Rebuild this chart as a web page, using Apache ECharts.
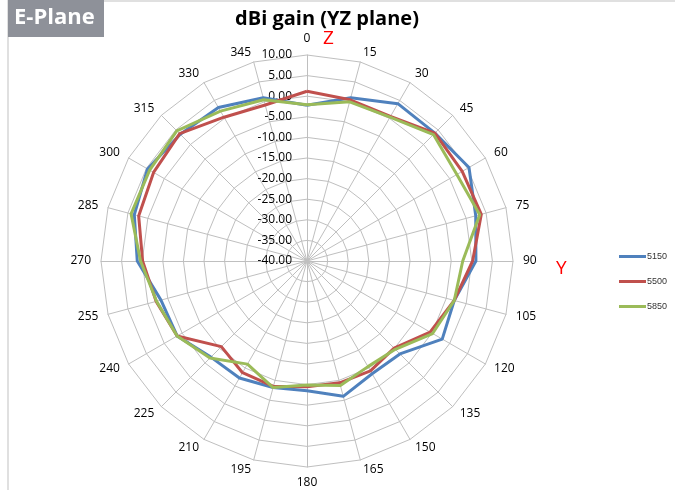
<!DOCTYPE html>
<html>
<head>
<meta charset="utf-8">
<script src="https://cdn.jsdelivr.net/npm/echarts@6/dist/echarts.min.js"></script>
<style>
  html, body { margin: 0; padding: 0; background: #fff; }
  #main { width: 675px; height: 490px; }
</style>
</head>
<body>
<div id="main"></div>
<script>
// angles, clockwise from top (Excel radar order)
var angles = [0, 15, 30, 45, 60, 75, 90, 105, 120, 135, 150, 165,
  180, 195, 210, 225, 240, 255, 270, 285, 300, 315, 330, 345];

var gain5150 = [-2.2, 1.0, 4.1, 3.9, 5.4, 2.4, 1.0, -3.0, -2.1, -8.1, -8.4, -6.0,
  -8.5, -8.2, -7.2, -7.0, -3.6, -3.3, 1.2, 3.4, 4.7, 3.5, 3.0, 1.0];
var gain5500 = [1.2, 0.5, 0.5, 3.9, 3.5, 3.8, 0.2, -3.0, -5.5, -10.1, -9.2, -9.4,
  -9.5, -8.5, -8.7, -10.6, -3.6, -2.1, -0.1, 2.3, 3.0, 3.7, 0.3, -0.8];
var gain5850 = [-2.1, 0.0, 0.3, 3.4, 2.0, 3.4, -2.2, -3.0, -4.8, -9.7, -10.4, -8.7,
  -9.9, -8.2, -11.1, -6.7, -3.6, -2.2, 0.4, 4.2, 4.1, 4.7, 2.0, 0.5];

var seriesNames = ['5150', '5500', '5850'];
var seriesColors = ['#4f81bd', '#c0504d', '#9bbb59'];

var axisMin = -40;
var axisMax = 10;

// echarts radar goes counter-clockwise, so walk the angles backwards
var order = [0];
for (var i = angles.length - 1; i > 0; i--) order.push(i);

var indicator = order.map(function (k, n) {
  var ind = { name: String(angles[k]), min: axisMin, max: axisMax };
  if (n === 0) ind.axisLabel = { show: true };
  return ind;
});

function reorder(arr) {
  return order.map(function (k) { return arr[k]; });
}

var allData = [gain5150, gain5500, gain5850];

var myChart = echarts.init(document.getElementById('main'));

var option = {
  animation: false,
  backgroundColor: '#fff',
  title: {
    text: 'dBi gain (YZ plane)',
    left: 322,
    textAlign: 'center',
    top: 4,
    textStyle: { fontSize: 20, fontWeight: 'bold', color: '#000', fontFamily: 'Open Sans' }
  },
  legend: {
    orient: 'vertical',
    left: 619,
    top: 252,
    icon: 'rect',
    itemWidth: 27,
    itemHeight: 3,
    itemGap: 16,
    padding: 0,
    textStyle: { fontSize: 9, color: '#333', padding: [0, 0, 0, -4] },
    data: seriesNames
  },
  radar: {
    center: [307, 261],
    radius: 206,
    startAngle: 90,
    shape: 'polygon',
    splitNumber: 10,
    indicator: indicator,
    axisName: { color: '#000', fontSize: 12, fontFamily: 'Open Sans' },
    nameGap: 10,
    splitArea: { show: false },
    splitLine: { lineStyle: { color: '#bfbfbf', width: 1 } },
    axisLine: { lineStyle: { color: '#bfbfbf', width: 1 } },
    axisTick: { show: false },
    axisLabel: {
      show: false,
      margin: 15,
      fontSize: 12,
      color: '#000',
      fontFamily: 'Open Sans',
      formatter: function (v) { return v.toFixed(2); }
    }
  },
  series: [{
    type: 'radar',
    symbol: 'none',
    data: allData.map(function (arr, s) {
      return {
        name: seriesNames[s],
        value: reorder(arr),
        lineStyle: { color: seriesColors[s], width: 3 },
        itemStyle: { color: seriesColors[s] }
      };
    })
  }],
  graphic: [
    { type: 'rect', shape: { x: 8, y: 1, width: 680, height: 500 },
      style: { fill: 'none', stroke: '#e0e0e0', lineWidth: 2 }, z: -1 },
    { type: 'rect', shape: { x: 8, y: 0, width: 96, height: 37 },
      style: { fill: '#8e9199' } },
    { type: 'text', left: 14, top: 7,
      style: { text: 'E-Plane', fill: '#fff', fontSize: 22, fontWeight: 'bold', fontFamily: 'Open Sans' } },
    { type: 'text', left: 323, top: 29,
      style: { text: 'Z', fill: '#ff0000', fontSize: 19, fontFamily: 'Open Sans' } },
    { type: 'text', left: 556, top: 259,
      style: { text: 'Y', fill: '#ff0000', fontSize: 19, fontFamily: 'Open Sans' } }
  ]
};

myChart.setOption(option);
</script>
</body>
</html>
